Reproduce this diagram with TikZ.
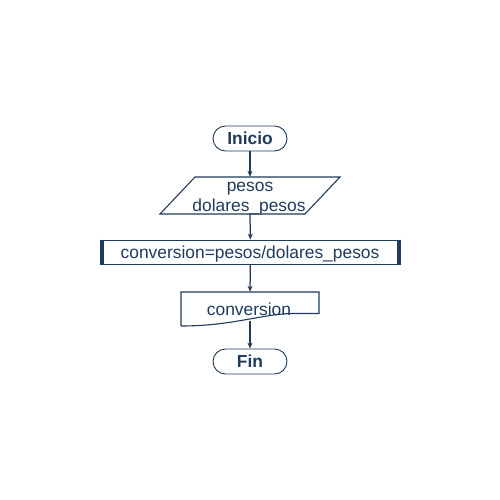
\documentclass[tikz,border=0pt]{standalone}
\usepackage{fontspec}
\setmainfont{Liberation Sans}
\usetikzlibrary{arrows.meta,shapes.misc}
\definecolor{fc}{HTML}{1F3A5C}
\begin{document}
\begin{tikzpicture}[x=1pt,y=-1pt,
  every node/.style={text=fc,font=\fontsize{17.4}{20}\selectfont,inner sep=0pt},
  term/.style={draw=fc,line width=0.9pt,rounded rectangle,minimum width=74pt,minimum height=25pt},
  lbl/.style={anchor=base},
  blbl/.style={anchor=base,font=\fontsize{17.4}{20}\selectfont\bfseries},
  conn/.style={draw=fc,line width=1.25pt,-{Stealth[length=6pt,width=5pt]}},
  edge/.style={draw=fc,line width=1.1pt,line join=miter}]
\useasboundingbox (0,0) rectangle (500,500);
% Inicio
\node[term] (ini) at (250,138.5) {};
\node[blbl] (initxt) at (250,144.5) {Inicio};
% input parallelogram
\node[minimum width=180pt,minimum height=37pt] (para) at (250,195.5) {};
\draw[edge] (195,177) -- (340,177) -- (305,214) -- (160,214) -- cycle;
\node[lbl] (paratxta) at (250,191) {pesos};
\node[lbl] (paratxtb) at (249,211.5) {dolares\_pesos};
% process
\node[draw=fc,line width=0.9pt,minimum width=300pt,minimum height=24pt] (proc) at (250.5,252) {};
\node[lbl] (proctxt) at (250,258) {conversion=pesos/dolares\_pesos};
\draw[fc,line width=3.5pt] ([xshift=1.75pt]proc.north west) -- ([xshift=1.75pt]proc.south west);
\draw[fc,line width=3.5pt] ([xshift=-1.75pt]proc.north east) -- ([xshift=-1.75pt]proc.south east);
% output document
\node[minimum width=138pt,minimum height=34pt] (doc) at (250,309) {};
\draw[edge] (181,326) -- (181,292) -- (319,292) -- (319,313.5) -- (292,313.5)
  .. controls (262,314) and (232,326) .. (181,326);
\node[lbl] (doctxt) at (249,315) {conversion};
\coordinate (docb) at (250,320.5);
% Fin
\node[term] (fin) at (250,361.5) {};
\node[blbl] (fintxt) at (250,367.5) {Fin};
% connectors
\draw[conn] (ini) -- (para.north);
\draw[conn] (para.south) -- (proc);
\draw[conn] (proc) -- (doc.north);
\draw[conn] (docb) -- (fin);
\end{tikzpicture}
\end{document}
